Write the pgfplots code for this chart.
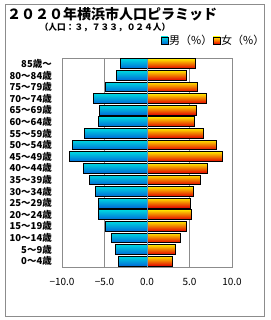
\documentclass[border=0pt]{standalone}
\usepackage{pgfplots}
\pgfplotsset{compat=1.18}
\usepackage{fontspec}
\setmainfont{Noto Sans CJK JP}
\definecolor{mtop}{RGB}{0,215,225}
\definecolor{mbot}{RGB}{0,105,215}
\definecolor{ftop}{RGB}{255,230,0}
\definecolor{fmid}{RGB}{255,120,0}
\definecolor{fbot}{RGB}{225,0,0}
\definecolor{gframe}{RGB}{140,140,140}
\definecolor{zline}{RGB}{90,150,190}
\pgfplotsset{
  mstyle/.style={draw=black, line width=1pt, top color=mtop, bottom color=mbot},
  fstyle/.style={draw=black, line width=1pt, top color=ftop, middle color=fmid, bottom color=fbot},
}
\newcommand\mbar[2]{\addplot[mstyle] coordinates {(#1,#2)};}
\newcommand\fbar[2]{\addplot[fstyle] coordinates {(#1,#2)};}
\begin{document}
\begin{tikzpicture}
\useasboundingbox (0pt,0pt) rectangle (270pt,320pt);
\draw[gframe, line width=0.8pt] (5pt,4pt) rectangle (264pt,316pt);
\node[anchor=west, inner sep=0pt, font=\fontsize{14}{16}\selectfont\bfseries] at (7pt,306pt) {２０２０年横浜市人口ピラミッド};
\node[anchor=center, inner sep=0pt, font=\fontsize{8.7}{10}\selectfont\bfseries] at (105pt,293pt) {（人口：３，７３３，０２４人）};
% legend
\draw[black, line width=0.6pt, top color=mtop, bottom color=mbot] (161pt,276pt) rectangle (168pt,283pt);
\node[anchor=west, inner sep=0pt, font=\fontsize{11}{13}\selectfont] at (169pt,280pt) {男（\%）};
\draw[black, line width=0.6pt, top color=ftop, bottom color=fbot, middle color=fmid] (213pt,276pt) rectangle (220pt,283pt);
\node[anchor=west, inner sep=0pt, font=\fontsize{11}{13}\selectfont] at (221pt,280pt) {女（\%）};
\begin{axis}[
  at={(62pt,53pt)}, anchor=south west,
  scale only axis, width=170pt, height=209pt,
  xmin=-10, xmax=10, ymin=-0.5, ymax=17.5,
  axis line style={gframe, line width=0.8pt},
  major tick length=0pt,
  xtick={-10,-5,0,5,10},
  xticklabels={−10.0,−5.0,0.0,5.0,10.0},
  xticklabel style={font=\fontsize{10}{12}\selectfont, inner sep=0pt, anchor=north, yshift=-11pt},
  ytick={0,...,17},
  yticklabels={0～4歳,5～9歳,10～14歳,15～19歳,20～24歳,25～29歳,30～34歳,35～39歳,40～44歳,45～49歳,50～54歳,55～59歳,60～64歳,65～69歳,70～74歳,75～79歳,80～84歳,85歳～},
  yticklabel style={font=\fontsize{9.5}{11}\selectfont\bfseries, inner sep=0pt, anchor=east, xshift=-10pt},
  xmajorgrids, grid style={gframe, line width=0.8pt},
  xbar, bar width=9.8pt, bar shift=0pt,
]
% male (percent, negative to the left)
\mbar{-3.35}{0}\mbar{-3.71}{1}\mbar{-4.18}{2}\mbar{-4.88}{3}\mbar{-5.71}{4}\mbar{-5.71}{5}
\mbar{-6.06}{6}\mbar{-6.76}{7}\mbar{-7.47}{8}\mbar{-9.12}{9}\mbar{-8.76}{10}\mbar{-7.35}{11}
\mbar{-5.71}{12}\mbar{-5.59}{13}\mbar{-6.29}{14}\mbar{-4.88}{15}\mbar{-3.59}{16}\mbar{-3.07}{17}
% female
\fbar{3.00}{0}\fbar{3.35}{1}\fbar{3.94}{2}\fbar{4.65}{3}\fbar{5.24}{4}\fbar{5.12}{5}
\fbar{5.47}{6}\fbar{6.30}{7}\fbar{7.16}{8}\fbar{8.93}{9}\fbar{8.22}{10}\fbar{6.65}{11}
\fbar{5.59}{12}\fbar{5.83}{13}\fbar{7.05}{14}\fbar{5.99}{15}\fbar{4.69}{16}\fbar{5.75}{17}
\draw[zline, line width=1pt] (axis cs:0,-0.5) -- (axis cs:0,17.45);
\end{axis}
\end{tikzpicture}
\end{document}
